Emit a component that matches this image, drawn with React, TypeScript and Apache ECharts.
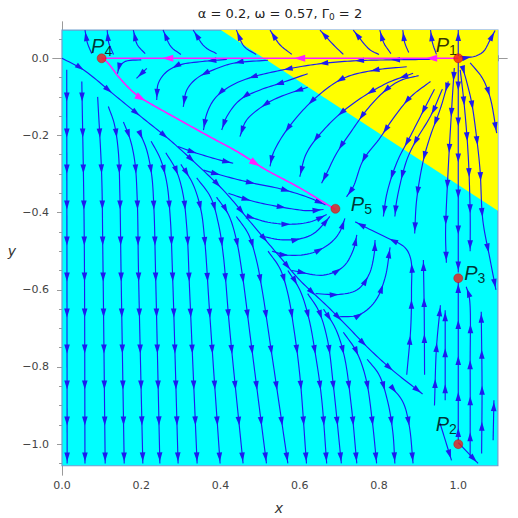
import { useEffect, useRef } from "react";
import * as echarts from "echarts";

// ---------- axes ----------
const X_RANGE = [-0.0227, 1.123];
const Y_RANGE = [-1.08, 0.094];
const xMajorTicks = [0, 0.2, 0.4, 0.6, 0.8, 1.0];
const xMinorTicks = [0.05, 0.1, 0.15, 0.25, 0.3, 0.35, 0.45, 0.5, 0.55, 0.65, 0.7, 0.75, 0.85, 0.9, 0.95, 1.05, 1.1];
const yMajorTicks = [0, -0.2, -0.4, -0.6, -0.8, -1.0];
const yMinorTicks = [0.05, -0.05, -0.1, -0.15, -0.25, -0.3, -0.35, -0.45, -0.5, -0.55, -0.65, -0.7, -0.75, -0.85, -0.9, -0.95, -1.05];

// ---------- regions ----------
const cyanRegion = [[0, 0.073], [1.1, 0.073], [1.1, -1.056], [0, -1.056]];
const yellowRegion = [[0.401, 0.073], [1.1, 0.073], [1.1, -0.395]];

// ---------- fixed points ----------
const pointNames = ["1", "2", "3", "4", "5"];
const pointX = [1.0, 1.0, 1.0, 0.1, 0.69];
const pointY = [0.0, -1.0, -0.57, 0.0, -0.39];

// ---------- magenta trajectories ----------
const magentaLines = [
  [[1.0, 0.0], [0.1, 0.0]],
  [[0.1, 0.0], [0.113, -0.009], [0.146, -0.052], [0.188, -0.095], [0.222, -0.117], [0.281, -0.151], [0.365, -0.199], [0.449, -0.246], [0.508, -0.285], [0.6, -0.336], [0.69, -0.392]],
];
const magentaArrowFractions = [[0.09, 0.46, 0.83], [0.22, 0.69]];

// ---------- streamlines (flow direction = point order) ----------
const diagonalLine = [
  [[0, 0], [0.054, -0.03], [0.138, -0.1], [0.2, -0.152], [0.27, -0.21], [0.34, -0.275], [0.41, -0.345], [0.48, -0.43], [0.55, -0.515], [0.6, -0.575], [0.672, -0.645], [0.722, -0.697], [0.777, -0.755], [0.836, -0.81], [0.91, -0.87]],
];
const fanLines = [
  [[0.012, -0.03], [0.013, -1.05]],
  [[0.05, -0.06], [0.056, -0.45], [0.058, -1.05]],
  [[0.09, -0.1], [0.1, -0.3], [0.103, -0.5], [0.109, -1.05]],
  [[0.117, -0.125], [0.132, -0.17], [0.142, -0.24], [0.146, -0.35], [0.149, -0.55], [0.157, -1.05]],
  [[0.155, -0.165], [0.172, -0.21], [0.184, -0.27], [0.19, -0.37], [0.193, -0.55], [0.204, -1.05]],
  [[0.195, -0.19], [0.213, -0.235], [0.226, -0.3], [0.232, -0.39], [0.236, -0.55], [0.247, -1.05]],
  [[0.225, -0.215], [0.248, -0.26], [0.264, -0.32], [0.273, -0.41], [0.279, -0.56], [0.293, -1.05]],
  [[0.262, -0.245], [0.288, -0.29], [0.305, -0.35], [0.315, -0.44], [0.322, -0.6], [0.341, -1.05]],
  [[0.3, -0.275], [0.33, -0.325], [0.35, -0.39], [0.36, -0.47], [0.372, -0.65], [0.399, -1.05]],
  [[0.34, -0.31], [0.375, -0.36], [0.395, -0.43], [0.407, -0.51], [0.423, -0.7], [0.457, -1.05]],
  [[0.39, -0.36], [0.42, -0.405], [0.44, -0.47], [0.455, -0.56], [0.475, -0.72], [0.516, -1.05]],
  [[0.44, -0.41], [0.47, -0.455], [0.49, -0.52], [0.505, -0.6], [0.527, -0.75], [0.57, -1.05]],
  [[0.52, -0.5], [0.55, -0.545], [0.57, -0.61], [0.585, -0.7], [0.6, -0.82], [0.617, -1.05]],
  [[0.57, -0.55], [0.6, -0.6], [0.622, -0.67], [0.64, -0.77], [0.655, -0.88], [0.668, -1.05]],
  [[0.62, -0.61], [0.648, -0.655], [0.67, -0.73], [0.685, -0.85], [0.705, -1.05]],
  [[0.66, -0.65], [0.69, -0.7], [0.712, -0.77], [0.73, -0.9], [0.744, -1.05]],
  [[0.71, -0.71], [0.743, -0.76], [0.767, -0.83], [0.783, -0.94], [0.794, -1.05]],
  [[0.77, -0.78], [0.8, -0.82], [0.822, -0.89], [0.835, -0.97], [0.84, -1.05]],
  [[0.83, -0.85], [0.86, -0.89], [0.876, -0.95], [0.886, -1.05]],
];
const upperLines = [
  [[0.2, -0.004], [0.16, -0.008], [0.145, -0.022], [0.14, -0.04]],
  [[0.214, -0.026], [0.188, -0.052]],
  [[0.416, -0.003], [0.348, -0.009], [0.298, -0.017], [0.264, -0.035], [0.243, -0.065], [0.239, -0.108]],
  [[0.52, -0.005], [0.432, -0.013], [0.382, -0.03], [0.34, -0.052], [0.315, -0.082], [0.306, -0.126]],
  [[0.93, -0.003], [0.84, -0.004], [0.75, -0.006], [0.67, -0.012], [0.6, -0.022], [0.53, -0.036], [0.47, -0.052], [0.42, -0.075], [0.385, -0.105], [0.365, -0.145], [0.357, -0.186]],
  [[0.62, -0.04], [0.55, -0.065], [0.5, -0.082], [0.449, -0.108], [0.416, -0.151], [0.403, -0.186]],
  [[0.62, -0.075], [0.55, -0.1], [0.517, -0.117], [0.466, -0.16], [0.449, -0.203]],
  [[0.87, -0.022], [0.794, -0.03], [0.71, -0.052], [0.634, -0.108], [0.567, -0.186], [0.533, -0.246], [0.525, -0.28]],
  [[0.886, -0.039], [0.819, -0.065], [0.735, -0.117], [0.668, -0.177], [0.617, -0.246], [0.6, -0.307]],
  [[0.9, -0.045], [0.853, -0.058], [0.811, -0.088], [0.769, -0.134], [0.727, -0.194], [0.693, -0.246], [0.668, -0.298], [0.655, -0.324]],
  [[0.93, -0.06], [0.88, -0.1], [0.84, -0.15], [0.8, -0.21], [0.76, -0.264], [0.735, -0.333], [0.718, -0.359]],
  [[0.94, -0.08], [0.91, -0.14], [0.88, -0.2], [0.845, -0.27], [0.82, -0.35], [0.811, -0.41]],
  [[0.96, -0.08], [0.93, -0.15], [0.895, -0.21], [0.87, -0.264], [0.845, -0.367], [0.84, -0.41]],
  [[0.975, -0.06], [0.955, -0.13], [0.93, -0.2], [0.912, -0.264], [0.895, -0.367], [0.89, -0.454]],
];
const topLines = [
  [[0.075, 0.012], [0.064, 0.04], [0.058, 0.073]],
  [[0.13, 0.01], [0.118, 0.04], [0.114, 0.073]],
  [[0.21, 0.012], [0.19, 0.035], [0.18, 0.073]],
  [[0.3, 0.01], [0.275, 0.03], [0.255, 0.073]],
  [[0.39, 0.012], [0.36, 0.03], [0.331, 0.073]],
  [[0.49, 0.01], [0.46, 0.03], [0.44, 0.073]],
  [[0.58, 0.01], [0.55, 0.035], [0.525, 0.073]],
  [[0.71, 0.01], [0.685, 0.035], [0.651, 0.073]],
  [[0.8, 0.01], [0.777, 0.022], [0.735, 0.073]],
  [[0.83, 0.012], [0.812, 0.04], [0.802, 0.073]],
  [[0.875, 0.015], [0.865, 0.04], [0.86, 0.073]],
  [[0.945, 0.01], [0.935, 0.04], [0.93, 0.073]],
  [[1.0, 0.005], [1.0, 0.073]],
  [[1.004, 0.004], [1.038, 0.004], [1.063, 0.017], [1.08, 0.047], [1.093, 0.072]],
];
const p1Lines = [
  [[1.0, -0.01], [1.0, -0.555]],
  [[1.01, -0.02], [1.021, -0.06], [1.034, -0.116], [1.046, -0.203], [1.055, -0.29], [1.062, -0.42], [1.08, -0.52], [1.095, -0.6]],
  [[1.03, -0.012], [1.06, -0.05], [1.08, -0.1], [1.097, -0.194]],
  [[1.005, -0.03], [1.015, -0.12], [1.025, -0.25], [1.03, -0.4], [1.03, -0.5]],
  [[0.99, -0.025], [0.984, -0.12], [0.974, -0.3], [0.968, -0.45], [0.97, -0.53]],
];
const basinLines = [
  [[0.293, -0.229], [0.34, -0.246], [0.399, -0.264], [0.432, -0.272]],
  [[0.357, -0.29], [0.416, -0.307], [0.483, -0.324], [0.55, -0.338], [0.62, -0.36], [0.665, -0.38]],
  [[0.42, -0.35], [0.48, -0.37], [0.55, -0.385], [0.62, -0.395], [0.66, -0.392]],
  [[0.47, -0.41], [0.52, -0.425], [0.58, -0.43], [0.63, -0.423], [0.668, -0.405]],
  [[0.5, -0.46], [0.55, -0.47], [0.6, -0.468], [0.634, -0.455], [0.66, -0.43], [0.676, -0.41]],
  [[0.53, -0.5], [0.567, -0.51], [0.626, -0.506], [0.676, -0.48], [0.701, -0.45], [0.714, -0.415]],
  [[0.58, -0.55], [0.66, -0.562], [0.71, -0.54], [0.735, -0.497], [0.744, -0.458]],
  [[0.64, -0.61], [0.7, -0.612], [0.745, -0.6], [0.775, -0.56], [0.788, -0.506], [0.79, -0.471]],
  [[0.7, -0.67], [0.75, -0.665], [0.79, -0.63], [0.815, -0.57], [0.828, -0.49]],
  [[0.87, -0.82], [0.88, -0.7], [0.882, -0.6], [0.88, -0.52], [0.865, -0.49], [0.82, -0.465], [0.77, -0.44], [0.74, -0.424]],
  [[0.915, -0.82], [0.914, -0.65], [0.912, -0.523]],
  [[0.94, -0.9], [0.945, -0.75], [0.955, -0.64]],
];
const rightLines = [
  [[1.0, -0.99], [1.0, -0.58]],
  [[1.03, -1.033], [1.03, -0.8], [1.028, -0.62], [1.02, -0.592]],
  [[1.059, -1.024], [1.06, -0.85], [1.058, -0.657]],
  [[1.088, -0.99], [1.09, -0.886]],
  [[0.967, -0.886], [0.967, -0.653]],
  [[1.0, -0.996], [1.05, -1.05]],
  [[0.954, -0.946], [0.983, -1.042]],
];

const streamLines = [...diagonalLine, ...fanLines, ...upperLines, ...topLines, ...p1Lines, ...basinLines, ...rightLines];

// ---------- styling ----------
const BLUE = "#1c1cf0";
const MAGENTA = "#ff20ff";
const CYAN = "#00ffff";
const YELLOW = "#ffff00";
const FRAME = "#9a9a9a";
const LABEL = "#444444";
const ARROW_SPACING = 36;

// centripetal Catmull-Rom smoothing of a pixel polyline
function smoothPath(pts: number[][]): number[][] {
  if (pts.length < 3) return pts;
  const ext = [
    [2 * pts[0][0] - pts[1][0], 2 * pts[0][1] - pts[1][1]],
    ...pts,
    [2 * pts[pts.length - 1][0] - pts[pts.length - 2][0], 2 * pts[pts.length - 1][1] - pts[pts.length - 2][1]],
  ];
  const lerp = (a: number[], b: number[], u: number) => [a[0] + (b[0] - a[0]) * u, a[1] + (b[1] - a[1]) * u];
  const dist = (a: number[], b: number[]) => Math.max(Math.sqrt(Math.hypot(b[0] - a[0], b[1] - a[1])), 1e-4);
  const out: number[][] = [];
  for (let i = 1; i < ext.length - 2; i++) {
    const p0 = ext[i - 1], p1 = ext[i], p2 = ext[i + 1], p3 = ext[i + 2];
    const t0 = 0, t1 = t0 + dist(p0, p1), t2 = t1 + dist(p1, p2), t3 = t2 + dist(p2, p3);
    const segLen = Math.hypot(p2[0] - p1[0], p2[1] - p1[1]);
    const n = Math.max(4, Math.ceil(segLen / 3));
    for (let k = 0; k < n; k++) {
      const t = t1 + ((t2 - t1) * k) / n;
      const a1 = lerp(p0, p1, (t - t0) / (t1 - t0));
      const a2 = lerp(p1, p2, (t - t1) / (t2 - t1));
      const a3 = lerp(p2, p3, (t - t2) / (t3 - t2));
      const b1 = lerp(a1, a2, (t - t0) / (t2 - t0));
      const b2 = lerp(a2, a3, (t - t1) / (t3 - t1));
      out.push(lerp(b1, b2, (t - t1) / (t2 - t1)));
    }
  }
  out.push(pts[pts.length - 1]);
  return out;
}

function cumulative(pts: number[][]) {
  const cum = [0];
  for (let i = 1; i < pts.length; i++) {
    cum.push(cum[i - 1] + Math.hypot(pts[i][0] - pts[i - 1][0], pts[i][1] - pts[i - 1][1]));
  }
  return cum;
}

function pointAt(pts: number[][], cum: number[], s: number) {
  let i = 1;
  while (i < cum.length - 1 && cum[i] < s) i++;
  const seg = cum[i] - cum[i - 1] || 1;
  const t = Math.min(1, Math.max(0, (s - cum[i - 1]) / seg));
  const a = pts[i - 1], b = pts[i];
  // tangent from a slightly wider window for stability
  const j0 = Math.max(0, i - 2), j1 = Math.min(pts.length - 1, i + 1);
  const dx = pts[j1][0] - pts[j0][0], dy = pts[j1][1] - pts[j0][1];
  const len = Math.hypot(dx, dy) || 1;
  return { p: [a[0] + (b[0] - a[0]) * t, a[1] + (b[1] - a[1]) * t], d: [dx / len, dy / len] };
}

function arrowHead(p: number[], d: number[], color: string, len = 9, half = 2.8) {
  const bx = p[0] - d[0] * len, by = p[1] - d[1] * len;
  const nx = -d[1], ny = d[0];
  return {
    type: "polygon",
    silent: true,
    shape: { points: [[p[0], p[1]], [bx + nx * half, by + ny * half], [bx - nx * half, by - ny * half]] },
    style: { fill: color, stroke: null },
  };
}

export default function App() {
  const ref = useRef<HTMLDivElement>(null);
  useEffect(() => {
    if (!ref.current) return;
    const chart = echarts.init(ref.current, null, { renderer: "svg" });

    const axisCommon = { type: "value", min: X_RANGE[0], max: X_RANGE[1], splitLine: { show: false } };
    const yCommon = { type: "value", min: Y_RANGE[0], max: Y_RANGE[1], splitLine: { show: false } };
    const frameLine = { show: true, lineStyle: { color: FRAME, width: 1 } };
    const fmtX = (v: number) => v.toFixed(1);
    const fmtY = (v: number) => (Math.abs(v) < 1e-9 ? "0.0" : "\u2212" + Math.abs(v).toFixed(1));

    const option: any = {
      animation: false,
      grid: { left: 53, right: 11, top: 22, bottom: 43 },
      xAxis: [
        { ...axisCommon, position: "bottom", axisLine: frameLine,
          axisTick: { show: true, inside: true, length: 5, customValues: xMajorTicks, lineStyle: { color: FRAME } },
          axisLabel: { show: true, customValues: xMajorTicks, formatter: fmtX, color: LABEL, fontSize: 11, fontFamily: "DejaVu Sans", margin: 5 } },
        { ...axisCommon, position: "bottom", axisLine: { show: false },
          axisTick: { show: true, inside: true, length: 3, customValues: xMinorTicks, lineStyle: { color: FRAME } },
          axisLabel: { show: false } },
        { ...axisCommon, position: "top", axisLine: frameLine,
          axisTick: { show: true, inside: true, length: 5, customValues: xMajorTicks, lineStyle: { color: FRAME } },
          axisLabel: { show: false } },
        { ...axisCommon, position: "top", axisLine: { show: false },
          axisTick: { show: true, inside: true, length: 3, customValues: xMinorTicks, lineStyle: { color: FRAME } },
          axisLabel: { show: false } },
      ],
      yAxis: [
        { ...yCommon, position: "left", axisLine: frameLine,
          axisTick: { show: true, inside: true, length: 5, customValues: yMajorTicks, lineStyle: { color: FRAME } },
          axisLabel: { show: true, customValues: yMajorTicks, formatter: fmtY, color: LABEL, fontSize: 11, fontFamily: "DejaVu Sans", margin: 4 } },
        { ...yCommon, position: "left", axisLine: { show: false },
          axisTick: { show: true, inside: true, length: 3, customValues: yMinorTicks, lineStyle: { color: FRAME } },
          axisLabel: { show: false } },
        { ...yCommon, position: "right", axisLine: frameLine,
          axisTick: { show: true, inside: true, length: 5, customValues: yMajorTicks, lineStyle: { color: FRAME } },
          axisLabel: { show: false } },
        { ...yCommon, position: "right", axisLine: { show: false },
          axisTick: { show: true, inside: true, length: 3, customValues: yMinorTicks, lineStyle: { color: FRAME } },
          axisLabel: { show: false } },
      ],
      graphic: [
        { type: "text", x: 280, y: 13, style: { text: "\u03b1 = 0.2, \u03c9 = 0.57, \u0393{s|0} = 2", fontSize: 13, fontFamily: "DejaVu Sans", fill: "#222", align: "center", verticalAlign: "middle", lineHeight: 16,
          rich: { s: { fontSize: 9, fontFamily: "DejaVu Sans", fill: "#222", lineHeight: 10, verticalAlign: "bottom" } } } },
        { type: "text", x: 279, y: 508, style: { text: "x", fontSize: 14, fontStyle: "italic", fontFamily: "DejaVu Sans", fill: "#333", align: "center", verticalAlign: "middle" } },
        { type: "text", x: 12, y: 251, style: { text: "y", fontSize: 14, fontStyle: "italic", fontFamily: "DejaVu Sans", fill: "#333", align: "center", verticalAlign: "middle" } },
      ],
      series: [
        {
          type: "custom",
          coordinateSystem: "cartesian2d",
          silent: true,
          data: [[0, 0]],
          encode: { x: 0, y: 1 },
          renderItem: (_p: any, api: any) => ({
            type: "group",
            children: [
              { type: "polygon", shape: { points: cyanRegion.map((q) => api.coord(q)) }, style: { fill: CYAN, stroke: "#6f9fcf", lineWidth: 1.2 } },
              { type: "polygon", shape: { points: yellowRegion.map((q) => api.coord(q)) }, style: { fill: YELLOW, stroke: null } },
            ],
          }),
          z: 1,
        },
        {
          type: "custom",
          coordinateSystem: "cartesian2d",
          silent: true,
          data: streamLines.map((_, i) => [i, 0]),
          encode: { x: 0, y: 1 },
          renderItem: (_p: any, api: any) => {
            const line = streamLines[api.value(0) as number];
            const pts = smoothPath(line.map((q) => api.coord(q)));
            const cum = cumulative(pts);
            const L = cum[cum.length - 1];
            const children: any[] = [
              { type: "polyline", silent: true, shape: { points: pts }, style: { stroke: BLUE, lineWidth: 1.15, fill: null } },
            ];
            for (let s = L - 2; s > 7; s -= ARROW_SPACING) {
              const { p, d } = pointAt(pts, cum, s);
              children.push(arrowHead(p, d, BLUE));
            }
            return { type: "group", children };
          },
          z: 2,
        },
        {
          type: "custom",
          coordinateSystem: "cartesian2d",
          silent: true,
          data: magentaLines.map((_, i) => [i, 0]),
          encode: { x: 0, y: 1 },
          renderItem: (_p: any, api: any) => {
            const idx = api.value(0) as number;
            const pts = smoothPath(magentaLines[idx].map((q) => api.coord(q)));
            const cum = cumulative(pts);
            const L = cum[cum.length - 1];
            const children: any[] = [
              { type: "polyline", silent: true, shape: { points: pts }, style: { stroke: MAGENTA, lineWidth: 1.6, fill: null } },
            ];
            magentaArrowFractions[idx].forEach((f) => {
              const { p, d } = pointAt(pts, cum, f * L);
              children.push(arrowHead(p, d, MAGENTA, 11, 3.6));
            });
            return { type: "group", children };
          },
          z: 3,
        },
        {
          type: "scatter",
          silent: true,
          symbol: "circle",
          symbolSize: 9,
          itemStyle: { color: "#f01818", borderColor: "#c00000", borderWidth: 0.5 },
          z: 4,
          data: pointX.map((x, i) => {
            const offsets = [[-12, -13], [-12, -20.5], [16.5, -5.5], [0, -12.2], [26, -4.8]];
            return {
              value: [x, pointY[i]],
              label: {
                show: true,
                position: "inside",
                offset: offsets[i],
                formatter: "{p|P}{s|" + pointNames[i] + "}",
                rich: {
                  p: { fontSize: 20, fontStyle: "italic", fontFamily: "Liberation Sans", color: "#000", lineHeight: 24, verticalAlign: "middle" },
                  s: { fontSize: 14, fontFamily: "Liberation Sans", color: "#000", lineHeight: 12, verticalAlign: "bottom" },
                },
              },
            };
          }),
        },
      ],
    };
    chart.setOption(option);
    return () => chart.dispose();
  }, []);
  return <div ref={ref} style={{ position: "absolute", left: 0, top: 0, width: 518, height: 518 }} />;
}
